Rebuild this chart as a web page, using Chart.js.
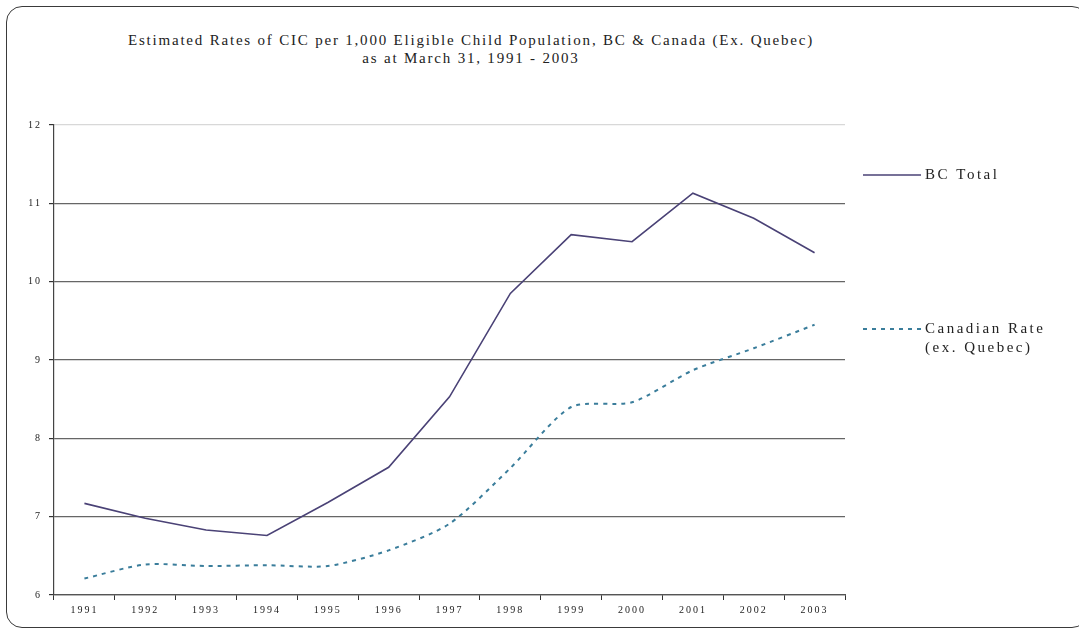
<!DOCTYPE html>
<html>
<head>
<meta charset="utf-8">
<script src="https://cdn.jsdelivr.net/npm/chart.js@4/dist/chart.umd.min.js"></script>
<style>
  html, body { margin: 0; padding: 0; background: #fff; overflow: hidden; }
  #wrap { position: relative; width: 1079px; height: 634px; }
  #frame { position: absolute; left: 6px; top: 6px; width: 1080px; height: 620px;
    border: 1.5px solid #3a3a3a; border-radius: 16px; }
  #title { position: absolute; left: 0; top: 31px; width: 942px; text-align: center;
    font: 15px "Liberation Serif", "DejaVu Serif", serif; line-height: 18px;
    letter-spacing: 1.8px; color: #222; }
  canvas { position: absolute; left: 0; top: 0; }
</style>
</head>
<body>
<div id="wrap">
  <div id="frame"></div>
  <div id="title">Estimated Rates of CIC per 1,000 Eligible Child Population, BC &amp; Canada (Ex. Quebec)<br>as at March 31, 1991 - 2003</div>
  <canvas id="myChart" width="1079" height="634"></canvas>
</div>
<script>
var years = ['1991', '1992', '1993', '1994', '1995', '1996', '1997', '1998', '1999', '2000', '2001', '2002', '2003'];
var bcTotal = [7.17, 6.98, 6.83, 6.76, 7.18, 7.63, 8.53, 9.85, 10.60, 10.51, 11.13, 10.81, 10.37];
var canadianRate = [6.21, 6.39, 6.37, 6.38, 6.37, 6.57, 6.91, 7.62, 8.40, 8.46, 8.87, 9.15, 9.45];
var bcLabel = ['BC Total'];
var canLabel = ['Canadian Rate', '(ex. Quebec)'];
var yMin = 6, yMax = 12, yStep = 1;

var serif = '"Liberation Serif", "DejaVu Serif", serif';
var bcColor = '#4a4276';
var canColor = '#3a7d9b';

// spaced-out lettering like the original
var spacing = {
  id: 'spacing',
  beforeDraw: function (chart) {
    chart.ctx.letterSpacing = '2px';
  }
};

// legend on the right, drawn by hand (two-line label)
var sideLegend = {
  id: 'sideLegend',
  afterDraw: function (chart) {
    var ctx = chart.ctx;
    var items = [
      { ds: chart.data.datasets[0], y: 175 },
      { ds: chart.data.datasets[1], y: 329 }
    ];
    ctx.save();
    ctx.letterSpacing = '2.5px';
    ctx.font = '15px ' + serif;
    ctx.fillStyle = '#222';
    ctx.textBaseline = 'middle';
    items.forEach(function (it) {
      ctx.beginPath();
      ctx.strokeStyle = it.ds.borderColor;
      ctx.lineWidth = it.ds.borderWidth;
      ctx.setLineDash(it.ds.borderDash || []);
      ctx.moveTo(863, it.y);
      ctx.lineTo(921, it.y);
      ctx.stroke();
      ctx.setLineDash([]);
      it.ds.legendText.forEach(function (t, i) {
        ctx.fillText(t, 925, it.y + i * 19);
      });
    });
    ctx.restore();
  }
};

var ctx = document.getElementById('myChart').getContext('2d');
var chart = new Chart(ctx, {
  type: 'line',
  data: {
    labels: years,
    datasets: [{
      label: 'BC Total',
      legendText: bcLabel,
      data: bcTotal,
      borderColor: bcColor,
      borderWidth: 1.6,
      pointRadius: 0,
      tension: 0
    }, {
      label: 'Canadian Rate (ex. Quebec)',
      legendText: canLabel,
      data: canadianRate,
      borderColor: canColor,
      borderWidth: 2,
      borderDash: [4, 5],
      pointRadius: 0,
      tension: 0.25
    }]
  },
  options: {
    responsive: false,
    animation: false,
    layout: { padding: { top: 125, right: 234, left: 0, bottom: 0 } },
    plugins: {
      legend: { display: false },
      title: { display: false },
      tooltip: { enabled: false }
    },
    scales: {
      x: {
        offset: true,
        afterFit: function (s) { s.height = 39; },
        grid: { offset: true, drawOnChartArea: false, drawTicks: true, tickLength: 5, tickColor: '#333' },
        border: { color: '#555', width: 1.2 },
        ticks: { color: '#222', font: { family: serif, size: 10 }, padding: 4, maxRotation: 0, autoSkip: false }
      },
      y: {
        min: yMin,
        max: yMax,
        afterFit: function (s) { s.width = 54; },
        grid: {
          color: function (c) { return c.tick && c.tick.value === yMax ? '#d8d8d8' : '#666'; },
          lineWidth: 1.2,
          tickLength: 5,
          tickColor: '#333'
        },
        border: { color: '#444', width: 1.2 },
        ticks: { stepSize: yStep, color: '#222', font: { family: serif, size: 10 }, padding: 7 }
      }
    }
  },
  plugins: [spacing, sideLegend]
});
</script>
</body>
</html>
